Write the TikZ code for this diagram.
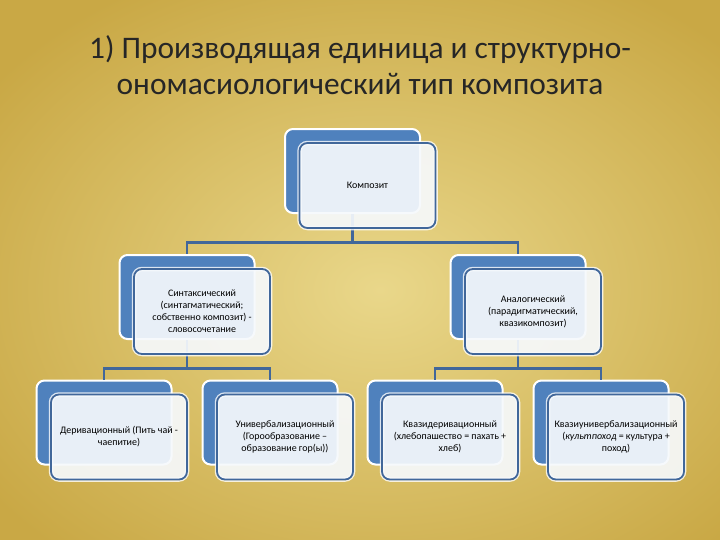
\documentclass[tikz,border=0pt]{standalone}
\usepackage{fontspec}
\setmainfont{Carlito}
\usetikzlibrary{trees, positioning}

\definecolor{boxblue}{HTML}{4F81BD}
\definecolor{rimblue}{HTML}{41679A}
\definecolor{goldlight}{HTML}{E9D78A}
\definecolor{golddark}{HTML}{C9A845}

\begin{document}
\begin{tikzpicture}[
  level distance=126bp,
  level 1/.style={sibling distance=331bp},
  level 2/.style={sibling distance=166bp, level distance=125.5bp},
  back/.style={rectangle, rounded corners=8bp, fill=boxblue, draw=white,
    line width=2bp, minimum width=135bp, minimum height=84bp, inner sep=0pt},
  front/.style={rectangle, rounded corners=8bp, fill=white!95!boxblue,
    fill opacity=0.92, text opacity=1, draw=rimblue, line width=1.8bp,
    minimum width=136bp, minimum height=85bp, inner sep=2bp, align=center,
    font=\fontsize{10}{12}\selectfont,
    preaction={draw=white, line width=4.5bp, draw opacity=0.8}},
  edge from parent/.style={draw=rimblue, line width=2.2bp},
  edge from parent path={(\tikzparentnode.south) -- ++(0,-28.5bp) -| (\tikzchildnode.north)}]

  % background
  \useasboundingbox (0,0) rectangle (720bp,-540bp);
  \begin{scope}
    \clip (0,0) rectangle (720bp,-540bp);
    \fill[golddark] (0,0) rectangle (720bp,-540bp);
    \shade[inner color=goldlight, outer color=golddark] (-100bp,60bp) rectangle (860bp,-640bp);
  \end{scope}

  \node[font=\fontsize{31.5}{36}\selectfont, align=center, text=black!85] (title)
    at (360bp,-65bp) {1) Производящая единица и структурно-\\ономасиологический тип композита};

  \node[back] (kb) at (352.5bp,-171bp) {}
	child {node[back] (sb) {}
		child {node[back] (db) {}}
		child {node[back] (ub) {}}
	}
	child {node[back] (ab) {}
		child {node[back] (qdb) {}}
		child {node[back] (qub) {}}
	};

  \node[front, xshift=15bp, yshift=-14.5bp] (kf) at (kb) {Композит};
  \node[front, xshift=15bp, yshift=-14.5bp] (sf) at (sb)
    {Синтаксический\\(синтагматический;\\собственно композит) -\\словосочетание};
  \node[front, xshift=15bp, yshift=-14.5bp] (af) at (ab)
    {Аналогический\\(парадигматический,\\квазикомпозит)};
  \node[front, xshift=15bp, yshift=-14.5bp] (df) at (db)
    {Деривационный (Пить чай -\\чаепитие)};
  \node[front, xshift=15bp, yshift=-14.5bp] (uf) at (ub)
    {Универбализационный\\(Горообразование –\\образование гор(ы))};
  \node[front, xshift=15bp, yshift=-14.5bp] (qdf) at (qdb)
    {Квазидеривационный\\(хлебопашество = пахать +\\хлеб)};
  \node[front, xshift=15bp, yshift=-14.5bp] (quf) at (qub)
    {Квазиунивербализационный\\(\textit{культпоход} = культура +\\поход)};
\end{tikzpicture}
\end{document}
